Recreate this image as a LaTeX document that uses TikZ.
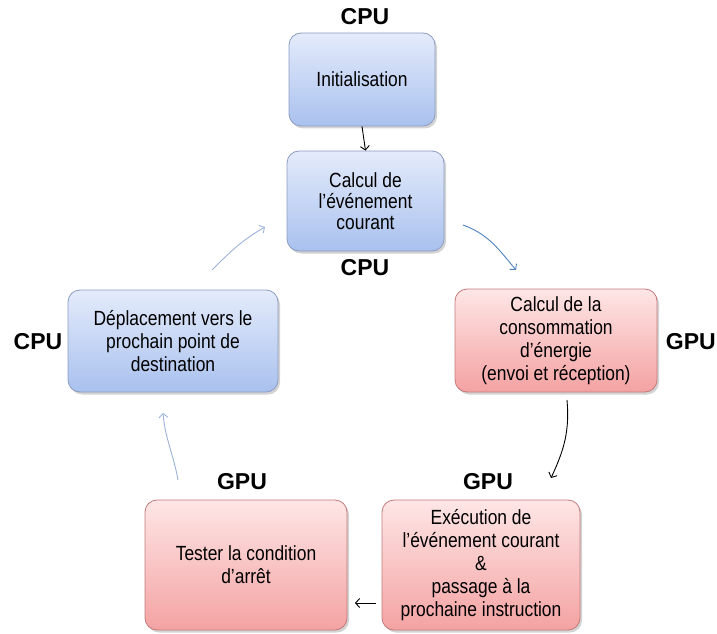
\documentclass[tikz,border=0pt]{standalone}
\usepackage{fontspec}
\setmainfont{Liberation Sans}[FakeStretch=0.85]
\newfontfamily\lblfont{Liberation Sans}
\usetikzlibrary{arrows.meta,shadows}
\definecolor{bluetop}{HTML}{E4EBFB}
\definecolor{bluebot}{HTML}{A9C1EE}
\definecolor{blueedge}{HTML}{8C9CC0}
\definecolor{redtop}{HTML}{FEE6E6}
\definecolor{redbot}{HTML}{F4A2A2}
\definecolor{rededge}{HTML}{C47A7A}
\definecolor{darkarr}{HTML}{4F81BD}
\definecolor{lightarr}{HTML}{9CB2DA}
\tikzset{
  box/.style={rounded corners=12pt, line width=0.8pt, align=center, inner sep=0pt,
    font=\fontsize{20.5}{23}\selectfont,
    drop shadow={shadow xshift=2pt, shadow yshift=-2.5pt, opacity=0.35}},
  bluebox/.style={box, draw=blueedge, top color=bluetop, bottom color=bluebot},
  redbox/.style={box, draw=rededge, top color=redtop, bottom color=redbot},
  lbl/.style={inner sep=0pt, font=\lblfont\bfseries\fontsize{23}{26}\selectfont},
  arr/.style={-{Straight Barb[length=4pt,width=9pt]}, line width=0.9pt},
}
\begin{document}
\begin{tikzpicture}[x=1pt,y=1pt]
\useasboundingbox (0,0) rectangle (717,633);
\node[bluebox, minimum width=146pt, minimum height=93pt] (init) at (362,553.5) {Initialisation};
\node[bluebox, minimum width=157pt, minimum height=100pt, font=\fontsize{20.5}{21}\selectfont] (calc) at (365.5,432) {Calcul de\\l’événement\\courant};
\node[redbox, minimum width=202pt, minimum height=103pt] (conso) at (556,292.5) {Calcul de la\\consommation\\d’énergie\\(envoi et réception)};
\node[bluebox, minimum width=210pt, minimum height=102pt] (depl) at (173,292) {Déplacement vers le\\prochain point de\\destination};
\node[redbox, minimum width=202pt, minimum height=130pt] (test) at (246,68) {Tester la condition\\d’arrêt};
\node[redbox, minimum width=198pt, minimum height=130pt] (exec) at (481,68) {Exécution de\\l’événement courant\\\&\\passage à la\\prochaine instruction};

\node[lbl] (l1) at (365,616) {CPU};
\node[lbl] (l2) at (365,365) {CPU};
\node[lbl, anchor=east] (l3) at (716,291) {GPU};
\node[lbl] (l4) at (38,291) {CPU};
\node[lbl] (l5) at (242,151) {GPU};
\node[lbl] (l6) at (488,151) {GPU};

\coordinate (a1s) at (463,408);
\coordinate (a1e) at (516,363);
\coordinate (a2s) at (567,233);
\coordinate (a2e) at (551,155);
\coordinate (a3s) at (376,30);
\coordinate (a3e) at (355,30);
\coordinate (a4s) at (178,153);
\coordinate (a4e) at (163,220);
\coordinate (a5s) at (212,363);
\coordinate (a5e) at (265,406);

\draw[arr] (init.south) -- (calc.north);
\draw[arr, draw=darkarr] (a1s) to[out=-20, in=130] (a1e);
\draw[arr] (a2s) to[out=-85, in=65] (a2e);
\draw[arr] (a3s) -- (a3e);
\draw[arr, draw=lightarr] (a4s) to[out=100, in=-85] (a4e);
\draw[arr, draw=lightarr] (a5s) to[out=45, in=-150] (a5e);
\end{tikzpicture}
\end{document}
